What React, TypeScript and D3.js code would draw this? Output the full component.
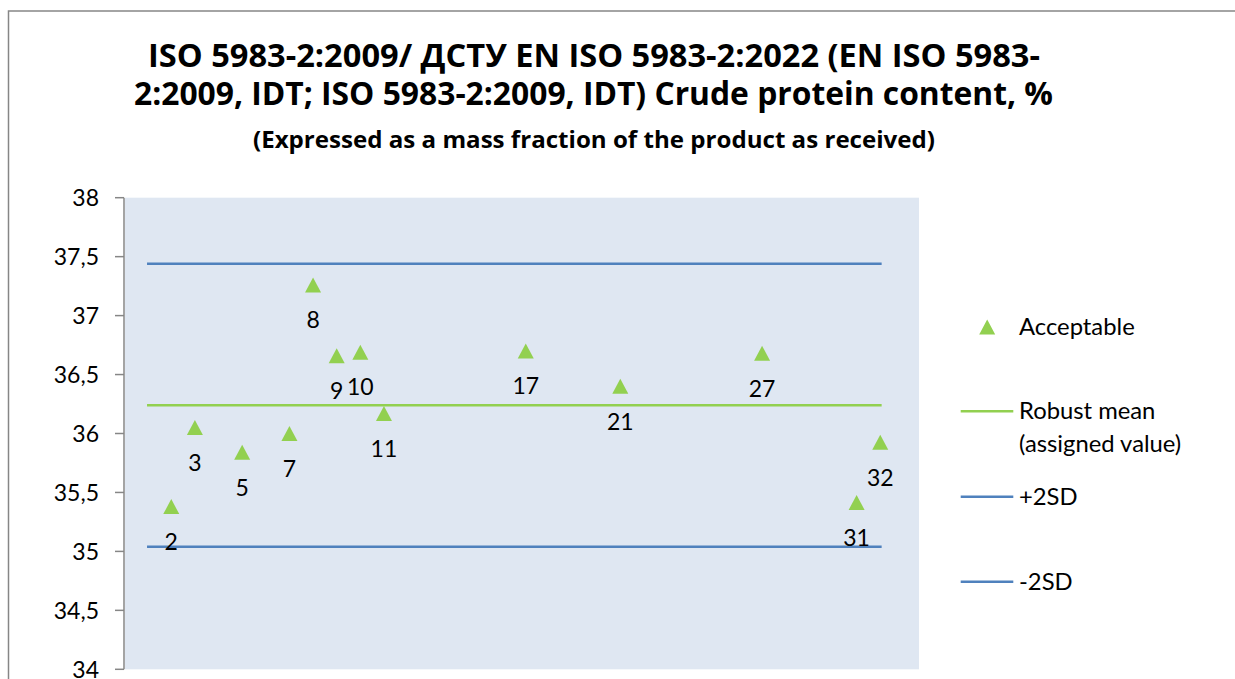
import React from "react";
import * as d3 from "d3";

const participants = [2, 3, 5, 7, 8, 9, 10, 11, 17, 21, 27, 31, 32];
const results = [35.38, 36.05, 35.84, 36.0, 37.26, 36.66, 36.69, 36.17, 36.7, 36.4, 36.68, 35.415, 35.925];
const robustMean = 36.24;
const plus2SD = 37.44;
const minus2SD = 35.04;
const lineRange = [1, 32];
const yTicks = [34, 34.5, 35, 35.5, 36, 36.5, 37, 37.5, 38];
const titleLines = [
  "ISO 5983-2:2009/ ДСТУ EN ISO 5983-2:2022 (EN ISO 5983-",
  "2:2009, IDT; ISO 5983-2:2009, IDT) Crude protein content, %",
];
const subtitle = "(Expressed as a mass fraction of the product as received)";
const legendItems = [
  { label: ["Acceptable"], kind: "marker", color: "#92D050" },
  { label: ["Robust mean", "(assigned value)"], kind: "line", color: "#92D050" },
  { label: ["+2SD"], kind: "line", color: "#4F81BD" },
  { label: ["-2SD"], kind: "line", color: "#4F81BD" },
];

const W = 1235;
const H = 679;
const plot = { left: 124, right: 919, top: 197.7, bottom: 669.3 };
const FONT = "Lato, 'Open Sans', sans-serif";
const TFONT = "'Open Sans', Lato, sans-serif";

export default function App() {
  const x = d3.scaleLinear().domain([0, 33.64]).range([plot.left, plot.right]);
  const y = d3.scaleLinear().domain([34, 38]).range([plot.bottom, plot.top]);
  const fmt = (v: number) => String(v).replace(".", ",");

  const tri = (cx: number, cy: number, w = 16, h = 15) =>
    d3.line()([
      [cx, cy - h / 2],
      [cx + w / 2, cy + h / 2],
      [cx - w / 2, cy + h / 2],
    ]) + "Z";

  const refLines = [
    { v: plus2SD, color: "#4F81BD" },
    { v: minus2SD, color: "#4F81BD" },
    { v: robustMean, color: "#92D050" },
  ];

  const legendY = [327, 411.3, 496.7, 581.7];

  return (
    <div style={{ position: "fixed", left: 0, top: 0, width: W, height: H, background: "#fff" }}>
      <svg width={W} height={H} style={{ display: "block" }} fontFamily={FONT}>
        <rect x={0} y={0} width={W} height={H} fill="#fff" />
        <rect x={8.5} y={11} width={W + 20} height={H + 20} fill="none" stroke="#868686" strokeWidth={1.5} />

        {/* title */}
        <g fontFamily={TFONT} fontWeight="bold" textAnchor="middle">
          <text x={594} y={67.3} fontSize={31.8} textLength={892} lengthAdjust="spacingAndGlyphs">
            {titleLines[0]}
          </text>
          <text x={593.5} y={105} fontSize={31.8} textLength={919} lengthAdjust="spacingAndGlyphs">
            {titleLines[1]}
          </text>
          <text x={594} y={148.3} fontSize={23.6} textLength={682} lengthAdjust="spacingAndGlyphs">
            {subtitle}
          </text>
        </g>

        {/* plot area */}
        <rect x={plot.left + 1} y={plot.top} width={plot.right - plot.left - 1} height={plot.bottom - plot.top} fill="#DFE7F2" />

        {/* y axis */}
        <line x1={plot.left} x2={plot.left} y1={plot.top} y2={plot.bottom} stroke="#868686" strokeWidth={1.5} />
        {yTicks.map((t) => (
          <g key={t}>
            <line x1={115} x2={plot.left} y1={y(t)} y2={y(t)} stroke="#868686" strokeWidth={1.5} />
            <text x={99} y={y(t)} dy="0.36em" textAnchor="end" fontSize={23}>
              {fmt(t)}
            </text>
          </g>
        ))}

        {/* reference lines */}
        {refLines.map((r, i) => (
          <line
            key={i}
            x1={x(lineRange[0]) - 0.6}
            x2={x(lineRange[1]) + 1.4}
            y1={y(r.v)}
            y2={y(r.v)}
            stroke={r.color}
            strokeWidth={2.6}
          />
        ))}

        {/* points */}
        {participants.map((p, i) => (
          <g key={p}>
            <path d={tri(x(p), y(results[i]))} fill="#92D050" />
            <text x={x(p)} y={y(results[i]) + 35} dy="0.36em" textAnchor="middle" fontSize={23}>
              {p}
            </text>
          </g>
        ))}

        {/* legend */}
        {legendItems.map((it, i) => (
          <g key={i}>
            {it.kind === "marker" ? (
              <path d={tri(987.2, legendY[i])} fill={it.color} />
            ) : (
              <line x1={960.7} x2={1013.3} y1={legendY[i]} y2={legendY[i]} stroke={it.color} strokeWidth={2.6} />
            )}
            {it.label.map((l, j) => (
              <text key={j} x={1019} y={legendY[i] + 8 + j * 32.4} fontSize={23.8}>
                {l}
              </text>
            ))}
          </g>
        ))}
      </svg>
    </div>
  );
}
